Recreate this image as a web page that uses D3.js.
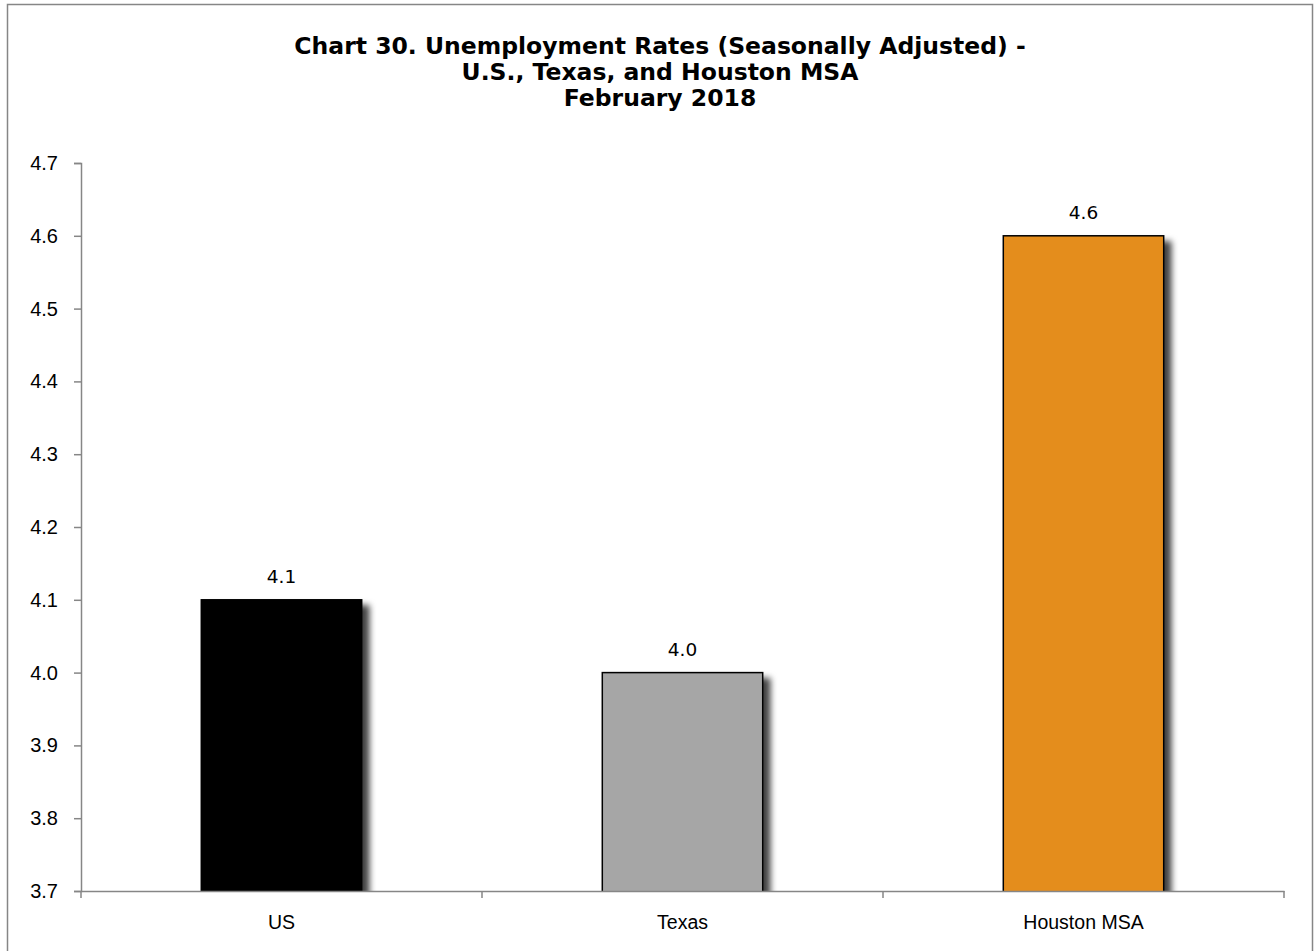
<!DOCTYPE html>
<html>
<head>
<meta charset="utf-8">
<script src="https://cdn.jsdelivr.net/npm/d3@7"></script>
<style>
  body { margin: 0; background: #fff; }
  svg { display: block; font-family: "DejaVu Sans", sans-serif; }
</style>
</head>
<body>
<svg id="chart" width="1314" height="951"></svg>
<script>
const categories = ['US', 'Texas', 'Houston MSA'];
const rates = [4.1, 4.0, 4.6];
const barColors = ['#000000', '#a6a6a6', '#e48d1d'];
const yTicks = [3.7, 3.8, 3.9, 4.0, 4.1, 4.2, 4.3, 4.4, 4.5, 4.6, 4.7];
const titleLines = [
  'Chart 30. Unemployment Rates (Seasonally Adjusted) -',
  'U.S., Texas, and Houston MSA',
  'February 2018'
];

const svg = d3.select('#chart');

// frame
svg.append('rect')
  .attr('x', 7.5).attr('y', 4.5)
  .attr('width', 1305).attr('height', 960)
  .attr('fill', 'none').attr('stroke', '#868686').attr('stroke-width', 1.5);

const defs = svg.append('defs');
const f = defs.append('filter').attr('id', 'shadow')
  .attr('x', '-10%').attr('y', '-10%').attr('width', '130%').attr('height', '130%');
f.append('feDropShadow')
  .attr('dx', 7).attr('dy', 6).attr('stdDeviation', 3)
  .attr('flood-color', '#000').attr('flood-opacity', 0.75);

const x = d3.scaleBand().domain(categories).range([81, 1284]);
const y = d3.scaleLinear().domain([3.7, 4.7]).range([891, 163]);

// title
svg.append('g').selectAll('text').data(titleLines).join('text')
  .attr('x', 660).attr('y', (d, i) => 54 + i * 26)
  .attr('text-anchor', 'middle')
  .attr('font-size', 23.5).attr('font-weight', 'bold').attr('fill', '#000')
  .text(d => d);

// bars
const bw = x.bandwidth() * 0.4;
defs.append('clipPath').attr('id', 'clip').append('rect')
  .attr('x', 81).attr('y', 100).attr('width', 1220).attr('height', 891 - 100);
const plot = svg.append('g').attr('clip-path', 'url(#clip)');

plot.selectAll('rect').data(categories).join('rect')
  .attr('x', d => x(d) + (x.bandwidth() - bw) / 2)
  .attr('y', (d, i) => y(rates[i]))
  .attr('width', bw)
  .attr('height', (d, i) => y(3.7) - y(rates[i]) + 10)
  .attr('fill', (d, i) => barColors[i])
  .attr('stroke', '#000').attr('stroke-width', 1.5)
  .attr('filter', 'url(#shadow)');

// value labels
svg.append('g').selectAll('text').data(categories).join('text')
  .attr('x', d => x(d) + x.bandwidth() / 2)
  .attr('y', (d, i) => y(rates[i]) - 17)
  .attr('text-anchor', 'middle')
  .attr('font-size', 18.5).attr('fill', '#000')
  .text((d, i) => rates[i].toFixed(1));

// y axis
const yAxis = svg.append('g').attr('transform', 'translate(81,0)')
  .call(d3.axisLeft(y).tickValues(yTicks).tickFormat(d3.format('.1f')).tickSize(7).tickPadding(16));
yAxis.select('.domain').attr('stroke', '#868686').attr('stroke-width', 1.5);
yAxis.selectAll('.tick line').attr('stroke', '#868686').attr('stroke-width', 1.5);
yAxis.selectAll('.tick text').attr('font-size', 20).attr('fill', '#000').attr('font-family', null);

// x axis
const xAxis = svg.append('g').attr('transform', 'translate(0,891)')
  .call(d3.axisBottom(x).tickSize(0).tickPadding(24));
xAxis.select('.domain').attr('stroke', '#868686').attr('stroke-width', 1.5);
xAxis.selectAll('.tick text').attr('font-size', 19.5).attr('fill', '#000').attr('font-family', null);
const bounds = categories.map(d => x(d)).concat([x.range()[1]]);
xAxis.selectAll('.bound').data(bounds).join('line').attr('class', 'bound')
  .attr('x1', d => d).attr('x2', d => d).attr('y1', 0).attr('y2', 7)
  .attr('stroke', '#868686').attr('stroke-width', 1.5);
</script>
</body>
</html>
